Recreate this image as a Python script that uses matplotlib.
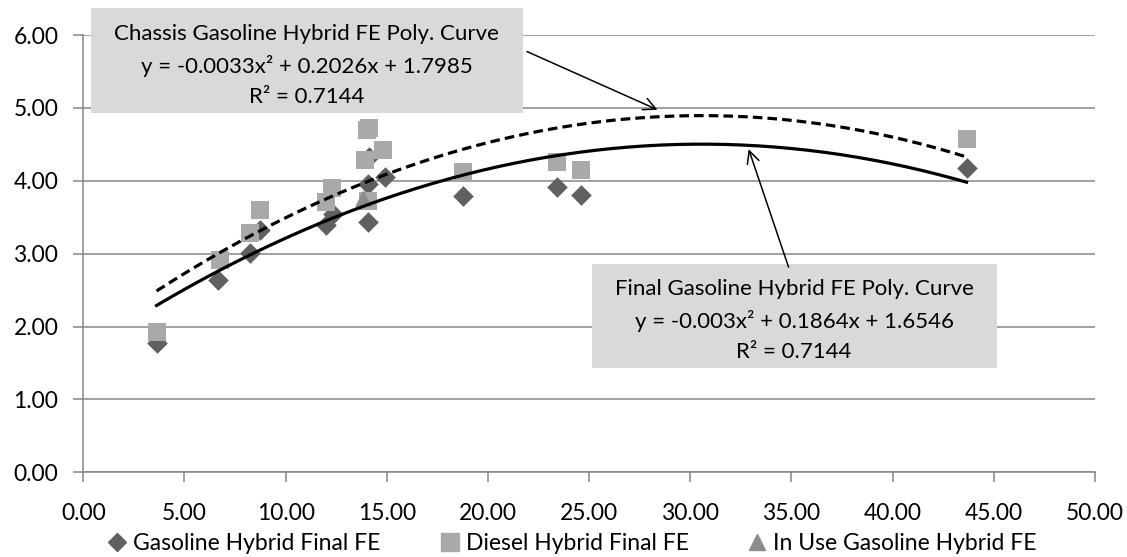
#!/usr/bin/env python3
"""Hybrid fuel economy scatter with polynomial trend curves."""

import numpy as np
import matplotlib
matplotlib.use("Agg")
import matplotlib.pyplot as plt
from matplotlib.patches import Rectangle
from matplotlib.lines import Line2D

plt.rcParams["font.family"] = ["Lato", "DejaVu Sans"]

# data
gas_x = [3.62, 6.67, 8.23, 8.73, 12.02, 12.33, 14.08, 14.08, 14.10, 14.90, 18.77, 23.40, 24.60, 43.65]
gas_y = [1.78, 2.64, 3.01, 3.32, 3.39, 3.55, 3.44, 3.96, 4.33, 4.05, 3.79, 3.92, 3.80, 4.18]

diesel_x = [3.62, 6.76, 8.23, 8.73, 12.00, 12.27, 14.02, 14.13, 13.90, 14.82, 14.08, 18.77, 23.39, 24.62, 43.65]
diesel_y = [1.93, 2.91, 3.28, 3.60, 3.71, 3.90, 4.70, 4.72, 4.28, 4.42, 3.73, 4.12, 4.26, 4.15, 4.57]

inuse_x = [13.84]
inuse_y = [3.76]

# trend-line coefficients as shown in the labels
final_label = ["-0.003", "0.1864", "1.6546"]
chassis_label = ["-0.0033", "0.2026", "1.7985"]
r2_label = "0.7144"
# unrounded quadratic term (the label rounds it), chassis = final / 0.92
final_coef = [-0.003049, 0.1864, 1.6546]
chassis_coef = [-0.003314, 0.2026, 1.7985]

x_ticks = [0, 5, 10, 15, 20, 25, 30, 35, 40, 45, 50]
y_ticks = [0, 1, 2, 3, 4, 5, 6]

GRID = "#868686"
FS = 16

fig = plt.figure(figsize=(11.27, 5.57), dpi=100)
ax = fig.add_axes([0.0739, 0.152, 0.8977, 0.785])

ax.scatter(gas_x, gas_y, marker="D", s=10.5 ** 2, color="#606060", lw=0, zorder=3)
ax.scatter(diesel_x, diesel_y, marker="s", s=13.5 ** 2, color="#A9A9A9", lw=0, zorder=4)
ax.scatter(inuse_x, inuse_y, marker="^", s=12 ** 2, color="#8C8C8C", lw=0, zorder=5)

xs = np.linspace(min(gas_x), max(gas_x), 200)
ax.plot(xs, np.polyval(final_coef, xs), color="black", lw=2.3, zorder=6)
ax.plot(xs, np.polyval(chassis_coef, xs), color="black", lw=2.3,
        linestyle=(0, (3.0, 1.6)), zorder=6)

ax.set_xlim(0, 50)
ax.set_ylim(0, 6)
ax.set_xticks(x_ticks)
ax.set_yticks(y_ticks)
ax.set_xticklabels([f"{v:.2f}" for v in x_ticks], fontsize=FS + 0.5)
ax.set_yticklabels([f"{v:.2f}" for v in y_ticks], fontsize=FS + 0.5)
ax.tick_params(axis="x", length=7, width=1.1, color=GRID, pad=15)
ax.tick_params(axis="y", length=7, width=1.1, color=GRID, pad=11)
ax.yaxis.grid(True, color=GRID, lw=1.1)
ax.set_axisbelow(True)
for side in ("top", "right"):
    ax.spines[side].set_visible(False)
for side in ("left", "bottom"):
    ax.spines[side].set_color(GRID)
    ax.spines[side].set_linewidth(1.1)

# annotation boxes
box1 = Rectangle((0.38, 4.93), 21.34, 1.44, fc="#D9D9D9", ec="none", clip_on=False, zorder=7)
ax.add_patch(box1)
ax.text(11.05, 5.585,
        "Chassis Gasoline Hybrid FE Poly. Curve\n"
        f"y = {chassis_label[0]}x² + {chassis_label[1]}x + {chassis_label[2]}\n"
        f"R² = {r2_label}",
        ha="center", va="center", fontsize=FS, linespacing=1.62, zorder=8)
ax.annotate("", xy=(28.5, 4.96), xytext=(21.8, 5.79),
            arrowprops=dict(arrowstyle="->", lw=1.1, color="black", mutation_scale=22), zorder=8)

box2 = Rectangle((25.13, 1.43), 20.01, 1.43, fc="#D9D9D9", ec="none", zorder=7)
ax.add_patch(box2)
ax.text(35.13, 2.08,
        "Final Gasoline Hybrid FE Poly. Curve\n"
        f"y = {final_label[0]}x² + {final_label[1]}x + {final_label[2]}\n"
        f"R² = {r2_label}",
        ha="center", va="center", fontsize=FS, linespacing=1.62, zorder=8)
ax.annotate("", xy=(32.84, 4.47), xytext=(34.9, 2.78),
            arrowprops=dict(arrowstyle="->", lw=1.1, color="black", mutation_scale=22), zorder=8)

handles = [
    Line2D([], [], marker="D", ls="none", color="#606060", markersize=9),
    Line2D([], [], marker="s", ls="none", color="#A9A9A9", markersize=13),
    Line2D([], [], marker="^", ls="none", color="#8C8C8C", markersize=12),
]
labels = ["Gasoline Hybrid Final FE", "Diesel Hybrid Final FE", "In Use Gasoline Hybrid FE"]
fig.legend(handles, labels, loc="center", bbox_to_anchor=(0.508, 0.024), ncol=3,
           frameon=False, fontsize=FS + 0.5, handlelength=0.8, handletextpad=0.3,
           columnspacing=2.6, borderaxespad=0)

fig.savefig("out.png", dpi=100)
